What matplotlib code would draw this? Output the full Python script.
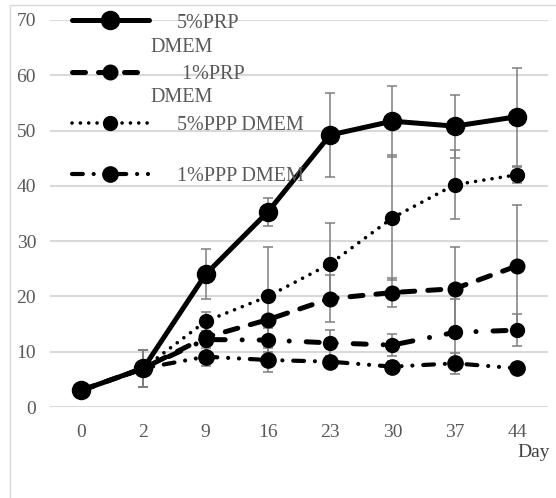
import matplotlib.pyplot as plt
from matplotlib.patches import Rectangle

plt.rcParams['font.family'] = ['Liberation Serif', 'DejaVu Serif']

days = ["0", "2", "9", "16", "23", "30", "37", "44"]

prp5 = [3.0, 7.0, 24.0, 35.3, 49.2, 51.7, 50.8, 52.5]
prp5_err = [0, 3.3, 4.5, 2.5, 7.6, 6.4, 5.7, 8.9]

prp1 = [3.0, 7.0, 12.6, 15.8, 19.6, 20.7, 21.4, 25.5]
prp1_err = [0, 3.3, 1.2, 0.6, 4.3, 2.6, 7.5, 11.0]

ppp5 = [3.0, 7.0, 15.5, 20.0, 25.9, 34.2, 40.2, 42.0]
ppp5_err = [0, 3.3, 1.7, 8.9, 7.4, 11.3, 6.2, 1.5]

# fifth series, no entry in the legend
extra = [3.0, 7.0, 12.2, 12.1, 11.6, 11.2, 13.5, 13.9]
extra_err = [0, 3.3, 1.0, 2.2, 2.3, 2.0, 6.1, 2.9]

ppp1 = [3.0, 7.0, 9.1, 8.5, 8.2, 7.3, 7.9, 7.0]
ppp1_err = [0, 3.3, 1.6, 2.1, 1.0, 1.0, 1.9, 0.8]

labels = ["5%PRP", " 1%PRP", "5%PPP DMEM", None, "1%PPP DMEM"]

GRAY = "#595959"

fig = plt.figure(figsize=(5.56, 4.98), dpi=100)
ax = fig.add_axes([50 / 556, 1 - 407 / 498, 498 / 556, 387 / 498])

x = list(range(len(days)))

styles = [
    dict(ls="-", lw=3.6, marker="o", ms=13),
    dict(ls=(0, (2.6, 2.6)), lw=3.6, marker="o", ms=10.5),
    dict(ls=(0, (0.01, 2.3)), lw=2.6, marker="o", ms=10),
    dict(ls=(0, (2.6, 3.4, 0.01, 3.4)), lw=3.6, marker="o", ms=10),
    dict(ls=(0, (2.6, 2.6, 0.01, 2.6, 0.01, 2.6)), lw=3.0, marker="o", ms=11),
]
data = [prp5, prp1, ppp5, extra, ppp1]
errs = [prp5_err, prp1_err, ppp5_err, extra_err, ppp1_err]

handles = []
for vals, err, st, lab in zip(data, errs, styles, labels):
    ax.errorbar(x, vals, yerr=err, fmt="none", ecolor="#7f7f7f",
                elinewidth=1.1, capsize=3.5, capthick=1.1, zorder=2)
    line, = ax.plot(x, vals, color="black", dash_capstyle="round",
                    solid_capstyle="round", zorder=3, **st)
    if lab is not None:
        handles.append((line, lab))

ax.set_xlim(-0.5, len(days) - 0.5)
ax.set_ylim(0, 70)
ax.set_yticks(range(0, 71, 10))
ax.set_xticks(x)
ax.set_xticklabels(days)
ax.tick_params(length=0, labelsize=14, labelcolor=GRAY)
ax.tick_params(axis="y", pad=10)
ax.tick_params(axis="x", pad=12)
ax.yaxis.grid(True, color="#d9d9d9", lw=1.5)
ax.set_axisbelow(True)
for s in ax.spines.values():
    s.set_visible(False)

leg = ax.legend([h for h, _ in handles], [l for _, l in handles],
                loc="upper left", bbox_to_anchor=(22 / 498, 1.017),
                frameon=False, fontsize=14.5, labelcolor=GRAY,
                handlelength=3.8, handletextpad=1.4, labelspacing=1.6,
                numpoints=1, borderaxespad=0, borderpad=0)

fig.text(150 / 556, 1 - 48 / 498, "DMEM", color=GRAY, fontsize=14.5, va="center")
fig.text(150 / 556, 1 - 98 / 498, "DMEM", color=GRAY, fontsize=14.5, va="center")
fig.text(550 / 556, 1 - 452 / 498, "Day", color="#404040", fontsize=14,
         ha="right", va="center")

fig.add_artist(Rectangle((10 / 556, -0.1), 1.0, 1.1 - 5 / 498,
                         transform=fig.transFigure, fill=False,
                         edgecolor="#d9d9d9", lw=1.0))

fig.savefig("out.png", dpi=100)
